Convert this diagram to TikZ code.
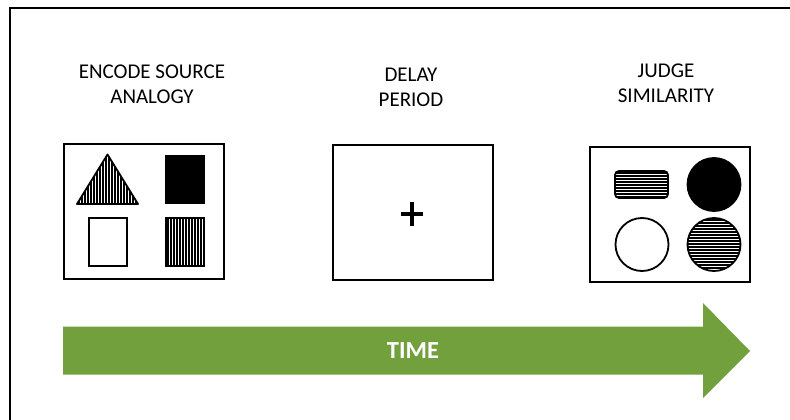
\documentclass[tikz,border=0pt]{standalone}
\usepackage{fontspec}
\setmainfont{Carlito}
\definecolor{timegreen}{RGB}{114,160,61}

\begin{document}
\begin{tikzpicture}[x=1pt, y=-1pt, font=\fontsize{21}{24.7}\selectfont]
    \tikzset{panel/.style={draw, line width=2pt, minimum width=160pt, minimum height=135pt, inner sep=0pt},
        shape box/.style={draw, line width=1.8pt, inner sep=0pt},
        stripe/.style={line width=1.2pt}}
    \useasboundingbox (0,0) rectangle (790,420);
    
    % Outer frame (open at right and bottom)
    \draw[line width=2pt] (10,425) -- (10,8) -- (795,8);
    
    % Step 1 - encode source analogy
    \node[align=center] (encode_label) at (152,84) {ENCODE SOURCE\\ANALOGY};
    \node[panel] (encode) at (143.5,211.5) {};
    % striped triangle
    \begin{scope}
        \clip (107.5,154.5) -- (138,204) -- (77,204) -- cycle;
        \foreach \x in {76,79,...,140} \draw[stripe] (\x,150) -- (\x,206);
    \end{scope}
    \draw[line width=1.8pt, line join=round] (107.5,154.5) -- (138,204) -- (77,204) -- cycle;
    \node[shape box, fill=black, minimum width=38pt, minimum height=47.5pt] (black_rect) at (184.7,179.5) {};
    \node[shape box, minimum width=38pt, minimum height=47.5pt] (white_rect) at (108,242) {};
    % striped rectangle
    \begin{scope}
        \clip (165.7,218.3) rectangle (203.7,265.8);
        \foreach \x in {165,168,...,206} \draw[stripe] (\x,215) -- (\x,268);
    \end{scope}
    \node[shape box, minimum width=38pt, minimum height=47.5pt] (striped_rect) at (184.7,242) {};
    
    % Step 2 - delay period
    \node[align=center] (delay_label) at (411,87) {DELAY\\PERIOD};
    \node[panel] (delay) at (413,212.5) {};
    \coordinate (fixation) at (412,214);
    \draw[line width=3.5pt] ([xshift=-11pt]fixation) -- ([xshift=11pt]fixation);
    \draw[line width=3.5pt] ([yshift=-12pt]fixation) -- ([yshift=12pt]fixation);
    
    % Step 3 - judge similarity
    \node[align=center] (judge_label) at (666,83) {JUDGE\\SIMILARITY};
    \node[panel] (judge) at (670,214.5) {};
    % striped bar
    \begin{scope}
        \clip[rounded corners=4pt] (615,171) rectangle (668,198);
        \foreach \y in {170,173,...,200} \draw[stripe] (612,\y) -- (671,\y);
    \end{scope}
    \node[shape box, rounded corners=4pt, minimum width=53pt, minimum height=27pt] (striped_bar) at (641.5,184.5) {};
    \node[shape box, circle, fill=black, minimum size=53pt] (black_circle) at (714,184.5) {};
    \node[shape box, circle, minimum size=53pt] (white_circle) at (642,244.5) {};
    % striped circle
    \begin{scope}
        \clip (714,244.5) circle[radius=26.5];
        \foreach \y in {217,220,...,273} \draw[stripe] (686,\y) -- (742,\y);
    \end{scope}
    \node[shape box, circle, minimum size=53pt] (striped_circle) at (714,244.5) {};
    
    % Time arrow
    \fill[timegreen] (63,326.5) -- (703,326.5) -- (703,303) -- (750,351) -- (703,398) -- (703,374.5) -- (63,374.5) -- cycle;
    \node[text=white, font=\fontsize{24.5}{29}\selectfont\bfseries] (time) at (413,351) {TIME};
    
\end{tikzpicture}
\end{document}
